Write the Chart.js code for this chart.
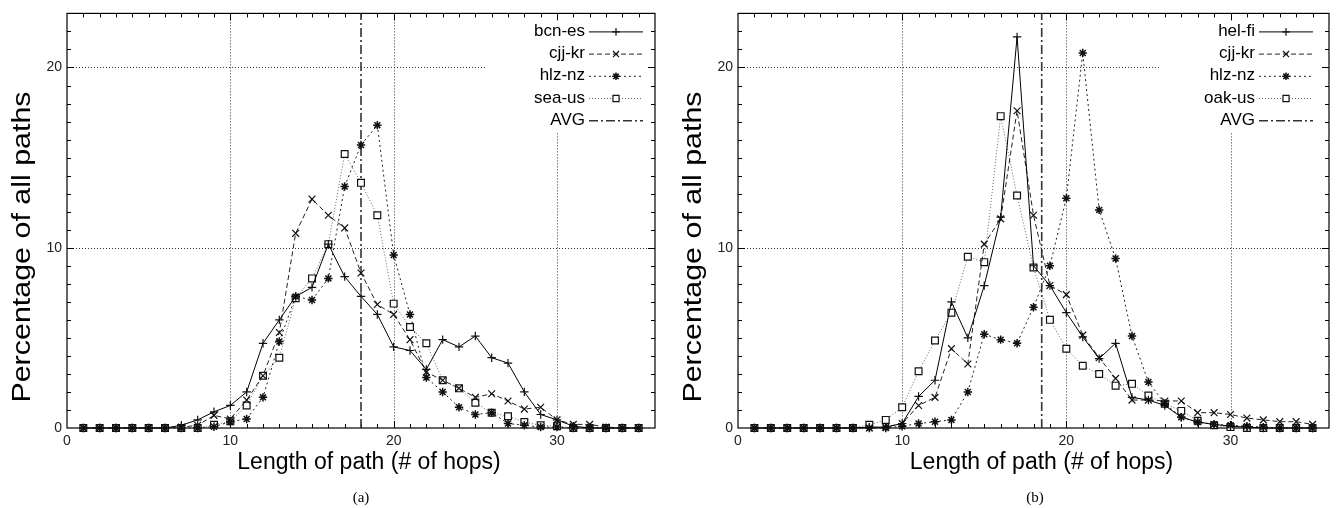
<!DOCTYPE html>
<html lang="en">
<head>
<meta charset="UTF-8">
<title>Length of path distributions</title>
<script src="https://cdn.jsdelivr.net/npm/chart.js@4.4.1/dist/chart.umd.min.js"></script>
<style>
  html, body { margin: 0; padding: 0; background: #fff; }
  body { width: 1338px; height: 508px; position: relative; overflow: hidden; }
  canvas { position: absolute; top: 0; }
  #chartA { left: 0; }
  #chartB { left: 669px; }
  .caption {
    position: absolute; top: 488px; width: 60px; text-align: center;
    font-family: 'Liberation Serif', 'Times New Roman', serif; font-size: 15px; line-height: 18px;
  }
</style>
</head>
<body>
<canvas id="chartA" width="669" height="508"></canvas>
<canvas id="chartB" width="669" height="508"></canvas>
<div class="caption" style="left:331px">(a)</div>
<div class="caption" style="left:1005px">(b)</div>

<script>
// hop counts on the x axis
const hops = [1, 2, 3, 4, 5, 6, 7, 8, 9, 10, 11, 12, 13, 14, 15, 16, 17, 18, 19, 20,
  21, 22, 23, 24, 25, 26, 27, 28, 29, 30, 31, 32, 33, 34, 35];
const xTicks = [0, 10, 20, 30];
const yTicks = [0, 10, 20];

// (a)
const namesA = ['bcn-es', 'cjj-kr', 'hlz-nz', 'sea-us'];
const bcnEs = [0, 0, 0, 0, 0, 0, 0.15, 0.45, 0.9, 1.25, 2.0, 4.7, 6.0, 7.3, 7.8, 10.2, 8.4, 7.3, 6.3, 4.5,
  4.3, 3.25, 4.9, 4.5, 5.1, 3.9, 3.6, 2.0, 0.75, 0.45, 0.1, 0, 0, 0, 0];
const cjjKrA = [0, 0, 0, 0, 0, 0, 0.05, 0.15, 0.7, 0.5, 1.55, 2.9, 5.3, 10.8, 12.7, 11.8, 11.1, 8.6, 6.85, 6.3,
  4.9, 3.1, 2.65, 2.2, 1.7, 1.9, 1.5, 1.05, 1.15, 0.45, 0.2, 0.2, 0.05, 0, 0];
const hlzNzA = [0, 0, 0, 0, 0, 0, 0, 0, 0.07, 0.35, 0.5, 1.7, 4.8, 7.3, 7.1, 8.3, 13.4, 15.7, 16.8, 9.6,
  6.3, 2.8, 2.0, 1.15, 0.75, 0.85, 0.25, 0.15, 0.05, 0.05, 0, 0, 0, 0, 0];
const seaUs = [0, 0, 0, 0, 0, 0, 0, 0, 0.18, 0.37, 1.25, 2.9, 3.9, 7.2, 8.3, 10.2, 15.2, 13.6, 11.8, 6.9,
  5.6, 4.7, 2.65, 2.2, 1.4, 0.85, 0.65, 0.33, 0.15, 0.1, 0, 0, 0, 0, 0];
const avgA = 18;

// (b)
const namesB = ['hel-fi', 'cjj-kr', 'hlz-nz', 'oak-us'];
const helFi = [0, 0, 0, 0, 0, 0, 0, 0.05, 0.05, 0.25, 1.75, 2.65, 7.0, 5.0, 7.9, 11.7, 21.7, 9.0, 7.9, 6.4,
  5.05, 3.85, 4.7, 1.7, 1.55, 1.25, 0.6, 0.33, 0.2, 0.1, 0.05, 0, 0, 0, 0];
const cjjKrB = [0, 0, 0, 0, 0, 0, 0, 0, 0.05, 0.25, 1.25, 1.7, 4.4, 3.55, 10.2, 11.6, 17.6, 11.8, 7.9, 7.4,
  5.15, 3.9, 2.75, 1.55, 1.55, 1.5, 1.5, 0.85, 0.85, 0.75, 0.55, 0.45, 0.35, 0.35, 0.2];
const hlzNzB = [0, 0, 0, 0, 0, 0, 0, 0, 0, 0.1, 0.25, 0.35, 0.45, 2.0, 5.2, 4.9, 4.7, 6.7, 9.0, 12.75,
  20.8, 12.1, 9.4, 5.1, 2.55, 1.35, 0.6, 0.33, 0.2, 0.15, 0.1, 0.05, 0, 0, 0];
const oakUs = [0, 0, 0, 0, 0, 0, 0, 0.18, 0.45, 1.15, 3.15, 4.85, 6.4, 9.5, 9.2, 17.3, 12.9, 8.9, 6.0, 4.4,
  3.45, 3.0, 2.35, 2.45, 1.8, 1.35, 0.95, 0.4, 0.15, 0.05, 0, 0, 0, 0, 0];
const avgB = 18.5;

const FONT = "'Liberation Sans', Arial, Helvetica, sans-serif";

// gnuplot-ish line types, one per series slot
const styles = [
  { dash: [], point: 'cross', color: '#000', radius: 4.2, pw: 1.2 },
  { dash: [5, 3], point: 'crossRot', color: '#222', radius: 4.8, pw: 1.2 },
  { dash: [2, 3], point: 'star', color: '#222', radius: 4.2, pw: 1.5 },
  { dash: [1, 2], point: 'rect', color: '#666', radius: 4.8, pw: 1.2 }
];
const avgStyle = { dash: [9, 3, 2, 3], color: '#333', width: 1.6 };

function buildDatasets(names, series, avg) {
  const sets = series.map((vals, i) => ({
    label: names[i],
    data: hops.map((h, j) => ({ x: h, y: vals[j] })),
    borderColor: styles[i].color,
    borderWidth: 1,
    borderDash: styles[i].dash,
    pointStyle: styles[i].point,
    pointRadius: styles[i].radius,
    pointBorderColor: '#111',
    pointBackgroundColor: '#fff',
    pointBorderWidth: styles[i].pw,
    tension: 0,
    clip: false
  }));
  sets.push({
    label: 'AVG',
    data: [{ x: avg, y: 0 }, { x: avg, y: 23 }],
    borderColor: avgStyle.color,
    borderWidth: avgStyle.width,
    borderDash: avgStyle.dash,
    pointRadius: 0,
    clip: false
  });
  return sets;
}

// grid, frame, inward ticks, key and axis titles drawn like the gnuplot original
const framePlugin = {
  id: 'frame',
  beforeDatasetsDraw(chart, args, o) {
    const { ctx, chartArea: a, scales: { x, y } } = chart;
    ctx.save();
    ctx.strokeStyle = '#333';
    ctx.lineWidth = 1;
    ctx.setLineDash([1, 2]);
    [10, 20, 30].forEach(v => {
      const px = Math.round(x.getPixelForValue(v)) + 0.5;
      ctx.beginPath(); ctx.moveTo(px, a.top); ctx.lineTo(px, a.bottom); ctx.stroke();
    });
    [10, 20].forEach(v => {
      const py = Math.round(y.getPixelForValue(v)) + 0.5;
      ctx.beginPath(); ctx.moveTo(a.left, py); ctx.lineTo(a.right, py); ctx.stroke();
    });
    ctx.setLineDash([]);
    // key area hides the grid
    ctx.fillStyle = '#fff';
    ctx.fillRect(a.right - 168, a.top + 1, 166, 118);

    ctx.strokeStyle = '#000';
    ctx.lineWidth = 1.2;
    ctx.strokeRect(a.left, a.top, a.width, a.height);
    ctx.lineWidth = 1;
    for (let v = 1; v < 36; v++) {
      const px = Math.round(x.getPixelForValue(v)) + 0.5;
      const len = v % 10 === 0 ? 7 : 4;
      ctx.beginPath();
      ctx.moveTo(px, a.bottom); ctx.lineTo(px, a.bottom - len);
      ctx.moveTo(px, a.top); ctx.lineTo(px, a.top + len);
      ctx.stroke();
    }
    for (let v = 1; v < 23; v++) {
      const py = Math.round(y.getPixelForValue(v)) + 0.5;
      const len = v % 10 === 0 ? 7 : 4;
      ctx.beginPath();
      ctx.moveTo(a.left, py); ctx.lineTo(a.left + len, py);
      ctx.moveTo(a.right, py); ctx.lineTo(a.right - len, py);
      ctx.stroke();
    }
    ctx.restore();
  },
  afterDatasetsDraw(chart, args, o) {
    const { ctx, chartArea: a } = chart;
    const textEnd = a.right - o.keyShift;
    ctx.save();
    ctx.font = '17px ' + FONT;
    ctx.textAlign = 'right';
    ctx.textBaseline = 'middle';
    chart.data.datasets.forEach((ds, i) => {
      const ry = a.top + 18 + i * 22.2;
      ctx.fillStyle = '#000';
      ctx.fillText(ds.label, textEnd, ry);
      const x0 = textEnd + 4, x1 = textEnd + 58;
      ctx.strokeStyle = ds.borderColor;
      ctx.lineWidth = ds.borderWidth;
      ctx.setLineDash(ds.borderDash);
      ctx.beginPath(); ctx.moveTo(x0, ry + 0.5); ctx.lineTo(x1, ry + 0.5); ctx.stroke();
      ctx.setLineDash([]);
      if (ds.pointRadius > 0) {
        ctx.strokeStyle = ds.pointBorderColor;
        ctx.fillStyle = ds.pointBackgroundColor;
        ctx.lineWidth = ds.pointBorderWidth;
        Chart.helpers.drawPoint(ctx, {
          pointStyle: ds.pointStyle, radius: ds.pointRadius * 0.9, rotation: 0, borderWidth: ds.pointBorderWidth
        }, (x0 + x1) / 2, ry + 0.5);
      }
    });
    ctx.restore();
  },
  afterDraw(chart) {
    const { ctx, chartArea: a } = chart;
    ctx.save();
    ctx.fillStyle = '#000';
    ctx.font = '23px ' + FONT;
    ctx.textAlign = 'center';
    ctx.textBaseline = 'alphabetic';
    ctx.fillText('Length of path (# of hops)', (a.left + a.right) / 2 + 8, 469);

    ctx.translate(a.left - 44, 247);
    ctx.rotate(-Math.PI / 2);
    ctx.scale(1.17, 1);
    ctx.font = '26px ' + FONT;
    ctx.textBaseline = 'middle';
    ctx.fillText('Percentage of all paths', 0, 0);
    ctx.restore();
  }
};

function makeChart(id, names, series, avg, plotLeft, padRight, keyShift) {
  return new Chart(document.getElementById(id), {
    type: 'line',
    data: { datasets: buildDatasets(names, series, avg) },
    plugins: [framePlugin],
    options: {
      responsive: false,
      animation: false,
      events: [],
      layout: { padding: { left: 0, right: padRight, top: 10, bottom: 0 } },
      plugins: {
        legend: { display: false },
        tooltip: { enabled: false },
        frame: { keyShift: keyShift }
      },
      scales: {
        x: {
          type: 'linear', min: 0, max: 36,
          grid: { display: false, drawTicks: false },
          border: { display: false },
          ticks: { font: { family: FONT, size: 14 }, color: '#222', padding: 5, maxRotation: 0 },
          afterBuildTicks: s => { s.ticks = xTicks.map(v => ({ value: v })); },
          afterFit: s => { s.height = 80; }
        },
        y: {
          type: 'linear', min: 0, max: 23,
          grid: { display: false, drawTicks: false },
          border: { display: false },
          ticks: { font: { family: FONT, size: 14 }, color: '#222', padding: 5 },
          afterBuildTicks: s => { s.ticks = yTicks.map(v => ({ value: v })); },
          afterFit: s => { s.width = plotLeft; }
        }
      }
    }
  });
}

makeChart('chartA', namesA, [bcnEs, cjjKrA, hlzNzA, seaUs], avgA, 67, 14, 70);
makeChart('chartB', namesB, [helFi, cjjKrB, hlzNzB, oakUs], avgB, 69, 9, 74);
</script>
</body>
</html>
